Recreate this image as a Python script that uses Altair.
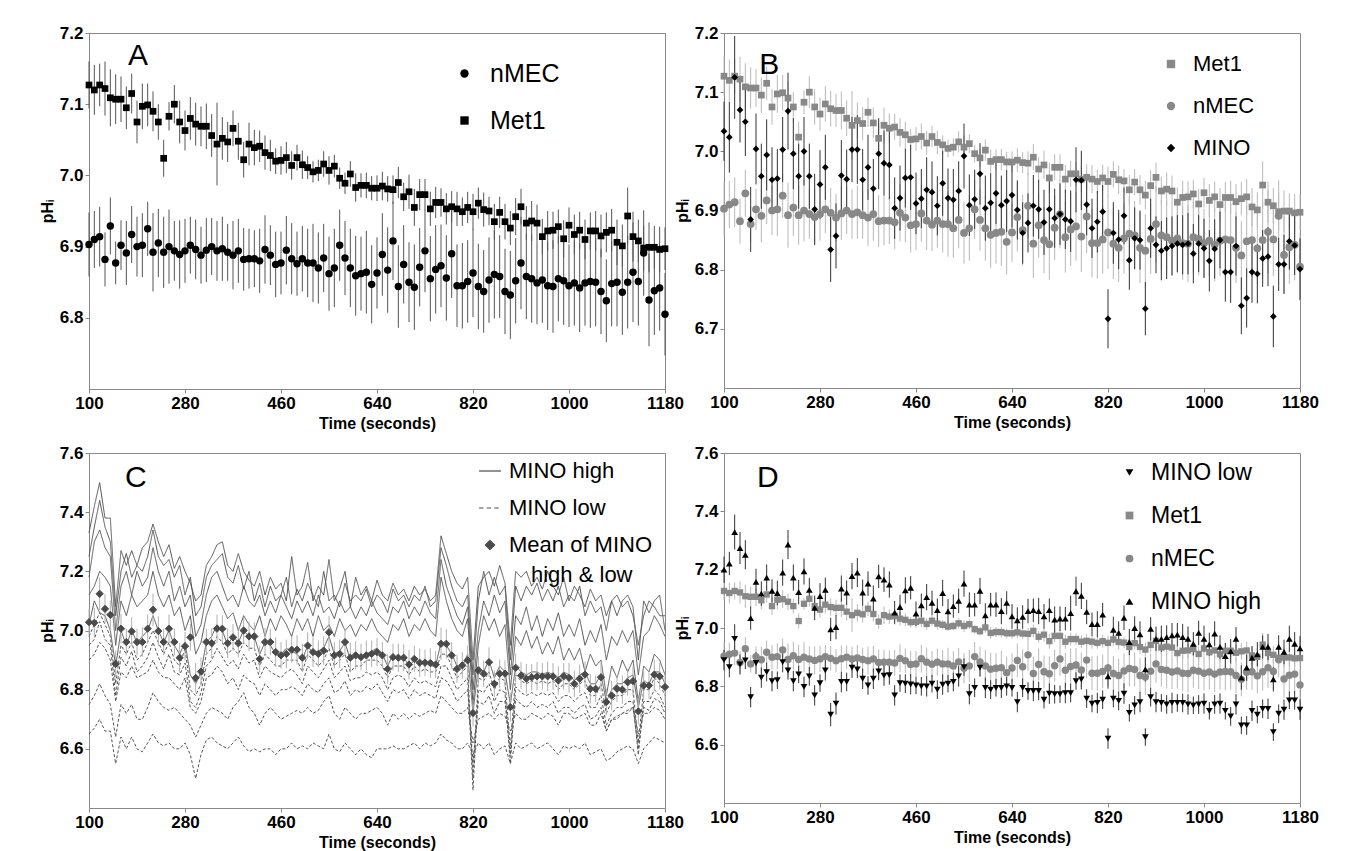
import altair as alt
import pandas as pd

FONT = "Liberation Sans"
N = 109
times = [100 + 10 * i for i in range(N)]
x_ticks = [100, 280, 460, 640, 820, 1000, 1180]

# ---------------- series values ----------------
met1 = [
    7.127, 7.120, 7.127, 7.122, 7.109, 7.107, 7.107, 7.095, 7.115, 7.075,
    7.097, 7.099, 7.090, 7.075, 7.024, 7.083, 7.100, 7.075, 7.063, 7.080,
    7.072, 7.069, 7.069, 7.056, 7.044, 7.052, 7.047, 7.066, 7.048, 7.022,
    7.044, 7.039, 7.041, 7.032, 7.028, 7.020, 7.021, 7.025, 7.014, 7.025,
    7.015, 7.011, 7.005, 7.007, 7.016, 7.007, 7.013, 6.996, 6.989, 7.002,
    6.983, 6.986, 6.986, 6.982, 6.982, 6.985, 6.981, 6.980, 6.990, 6.970,
    6.977, 6.955, 6.973, 6.973, 6.953, 6.962, 6.962, 6.953, 6.956, 6.953,
    6.949, 6.955, 6.949, 6.961, 6.952, 6.950, 6.935, 6.948, 6.935, 6.926,
    6.942, 6.956, 6.933, 6.936, 6.933, 6.914, 6.922, 6.923, 6.928, 6.911,
    6.930, 6.917, 6.923, 6.910, 6.922, 6.922, 6.915, 6.920, 6.923, 6.906,
    6.901, 6.943, 6.914, 6.908, 6.898, 6.899, 6.899, 6.896, 6.897]
met1_err = [
    0.033, 0.035, 0.030, 0.038, 0.040, 0.035, 0.032, 0.030, 0.028, 0.030,
    0.032, 0.030, 0.028, 0.025, 0.026, 0.020, 0.027, 0.030, 0.028, 0.030,
    0.030, 0.028, 0.032, 0.030, 0.058, 0.030, 0.028, 0.025, 0.026, 0.025,
    0.030, 0.025, 0.022, 0.024, 0.022, 0.018, 0.020, 0.022, 0.020, 0.018,
    0.020, 0.016, 0.015, 0.015, 0.018, 0.020, 0.016, 0.015, 0.015, 0.018,
    0.020, 0.017, 0.018, 0.017, 0.018, 0.020, 0.018, 0.020, 0.022, 0.020,
    0.024, 0.026, 0.022, 0.022, 0.024, 0.022, 0.020, 0.022, 0.022, 0.024,
    0.020, 0.022, 0.025, 0.022, 0.024, 0.020, 0.025, 0.022, 0.025, 0.024,
    0.026, 0.025, 0.024, 0.028, 0.026, 0.025, 0.028, 0.026, 0.024, 0.026,
    0.025, 0.028, 0.026, 0.028, 0.026, 0.028, 0.030, 0.028, 0.030, 0.032,
    0.030, 0.040, 0.035, 0.030, 0.032, 0.035, 0.030, 0.032, 0.030]
nmec = [
    6.903, 6.910, 6.914, 6.882, 6.929, 6.877, 6.902, 6.891, 6.917, 6.900,
    6.902, 6.925, 6.892, 6.905, 6.892, 6.900, 6.894, 6.889, 6.894, 6.902,
    6.896, 6.888, 6.895, 6.900, 6.894, 6.897, 6.892, 6.888, 6.894, 6.882,
    6.883, 6.883, 6.880, 6.896, 6.888, 6.875, 6.877, 6.895, 6.883, 6.876,
    6.883, 6.877, 6.877, 6.870, 6.884, 6.862, 6.870, 6.902, 6.884, 6.870,
    6.859, 6.862, 6.864, 6.847, 6.863, 6.889, 6.867, 6.908, 6.844, 6.875,
    6.850, 6.843, 6.871, 6.894, 6.855, 6.868, 6.873, 6.856, 6.890, 6.845,
    6.845, 6.851, 6.863, 6.844, 6.837, 6.853, 6.861, 6.858, 6.837, 6.832,
    6.852, 6.877, 6.858, 6.855, 6.849, 6.853, 6.845, 6.844, 6.855, 6.852,
    6.845, 6.849, 6.842, 6.849, 6.851, 6.850, 6.837, 6.824, 6.848, 6.850,
    6.836, 6.850, 6.864, 6.851, 6.891, 6.825, 6.838, 6.842, 6.805]
nmec_err = [
    0.045, 0.040, 0.042, 0.038, 0.040, 0.030, 0.035, 0.045, 0.040, 0.042,
    0.045, 0.038, 0.055, 0.048, 0.050, 0.052, 0.042, 0.048, 0.045, 0.040,
    0.042, 0.040, 0.045, 0.040, 0.042, 0.045, 0.040, 0.048, 0.045, 0.044,
    0.042, 0.040, 0.045, 0.048, 0.042, 0.046, 0.044, 0.048, 0.050, 0.045,
    0.046, 0.048, 0.055, 0.050, 0.048, 0.052, 0.055, 0.050, 0.052, 0.055,
    0.056, 0.052, 0.058, 0.055, 0.050, 0.058, 0.060, 0.055, 0.058, 0.055,
    0.056, 0.060, 0.055, 0.058, 0.060, 0.062, 0.058, 0.060, 0.062, 0.058,
    0.060, 0.058, 0.062, 0.060, 0.058, 0.060, 0.062, 0.058, 0.060, 0.062,
    0.060, 0.065, 0.060, 0.062, 0.058, 0.060, 0.062, 0.065, 0.060, 0.062,
    0.058, 0.060, 0.062, 0.060, 0.065, 0.062, 0.060, 0.058, 0.060, 0.062,
    0.060, 0.065, 0.070, 0.062, 0.060, 0.065, 0.062, 0.060, 0.058]
mino = [
    7.034, 7.024, 7.125, 7.070, 7.050, 6.885, 7.004, 6.958, 6.994, 6.952,
    6.954, 7.003, 7.068, 6.996, 6.958, 7.000, 6.958, 6.902, 6.944, 6.973,
    6.834, 6.857, 6.959, 6.953, 7.003, 7.003, 6.952, 6.973, 6.937, 6.996,
    6.980, 6.977, 6.904, 6.921, 6.955, 6.956, 6.912, 6.920, 6.935, 6.931,
    6.908, 6.946, 6.921, 6.918, 6.933, 6.992, 6.909, 6.919, 6.962, 6.904,
    6.913, 6.929, 6.909, 6.916, 6.926, 6.901, 6.862, 6.879, 6.908, 6.902,
    6.880, 6.902, 6.887, 6.894, 6.885, 6.882, 6.952, 6.951, 6.910, 6.870,
    6.881, 6.898, 6.717, 6.862, 6.851, 6.891, 6.816, 6.853, 6.850, 6.734,
    6.870, 6.842, 6.832, 6.836, 6.840, 6.844, 6.842, 6.844, 6.827, 6.844,
    6.836, 6.815, 6.835, 6.850, 6.796, 6.796, 6.840, 6.739, 6.752, 6.796,
    6.793, 6.819, 6.822, 6.721, 6.809, 6.809, 6.848, 6.841, 6.801]
mino_err = [
    0.050, 0.060, 0.070, 0.055, 0.058, 0.055, 0.060, 0.055, 0.060, 0.055,
    0.050, 0.055, 0.065, 0.060, 0.055, 0.058, 0.055, 0.060, 0.058, 0.055,
    0.055, 0.055, 0.060, 0.050, 0.055, 0.058, 0.052, 0.055, 0.050, 0.060,
    0.055, 0.058, 0.052, 0.055, 0.050, 0.055, 0.052, 0.050, 0.055, 0.052,
    0.050, 0.055, 0.050, 0.052, 0.050, 0.055, 0.052, 0.050, 0.052, 0.055,
    0.050, 0.052, 0.050, 0.052, 0.055, 0.050, 0.052, 0.050, 0.052, 0.050,
    0.055, 0.052, 0.050, 0.052, 0.050, 0.052, 0.055, 0.050, 0.052, 0.050,
    0.052, 0.045, 0.050, 0.052, 0.050, 0.048, 0.050, 0.052, 0.050, 0.045,
    0.050, 0.048, 0.050, 0.052, 0.050, 0.048, 0.050, 0.052, 0.050, 0.048,
    0.050, 0.052, 0.050, 0.048, 0.050, 0.052, 0.050, 0.048, 0.050, 0.052,
    0.050, 0.048, 0.050, 0.052, 0.045, 0.050, 0.048, 0.050, 0.052]
mino_high = [
    7.200, 7.221, 7.329, 7.274, 7.251, 7.034, 7.158, 7.118, 7.173, 7.127,
    7.120, 7.190, 7.286, 7.173, 7.123, 7.194, 7.131, 7.069, 7.109, 7.131,
    6.995, 7.003, 7.135, 7.121, 7.178, 7.190, 7.121, 7.152, 7.101, 7.177,
    7.166, 7.149, 7.053, 7.072, 7.129, 7.138, 7.049, 7.078, 7.106, 7.086,
    7.061, 7.120, 7.057, 7.075, 7.093, 7.152, 7.080, 7.080, 7.127, 7.043,
    7.080, 7.080, 7.058, 7.086, 7.040, 7.026, 7.038, 7.058, 7.061, 7.058,
    7.040, 7.061, 7.029, 7.032, 7.032, 7.051, 7.126, 7.110, 7.055, 7.013,
    7.013, 7.046, 6.834, 6.994, 6.983, 7.035, 6.952, 7.000, 6.978, 6.858,
    6.997, 6.963, 6.963, 6.969, 6.975, 6.977, 6.969, 6.963, 6.946, 6.983,
    6.963, 6.944, 6.981, 6.935, 6.904, 6.920, 6.963, 6.830, 6.864, 6.898,
    6.910, 6.935, 6.935, 6.824, 6.935, 6.918, 6.963, 6.946, 6.930]
mino_high_err = [
    0.045, 0.040, 0.060, 0.055, 0.050, 0.040, 0.045, 0.042, 0.045, 0.040,
    0.042, 0.045, 0.050, 0.045, 0.042, 0.045, 0.040, 0.042, 0.045, 0.042,
    0.040, 0.042, 0.045, 0.042, 0.045, 0.050, 0.045, 0.042, 0.045, 0.040,
    0.042, 0.045, 0.040, 0.042, 0.045, 0.040, 0.042, 0.040, 0.045, 0.042,
    0.040, 0.045, 0.042, 0.040, 0.042, 0.045, 0.042, 0.040, 0.045, 0.042,
    0.040, 0.042, 0.045, 0.040, 0.042, 0.045, 0.040, 0.042, 0.040, 0.045,
    0.042, 0.040, 0.045, 0.042, 0.040, 0.060, 0.050, 0.045, 0.042, 0.040,
    0.045, 0.040, 0.042, 0.045, 0.040, 0.042, 0.045, 0.040, 0.045, 0.042,
    0.040, 0.042, 0.045, 0.040, 0.042, 0.040, 0.045, 0.042, 0.040, 0.042,
    0.045, 0.040, 0.042, 0.040, 0.045, 0.042, 0.040, 0.042, 0.045, 0.040,
    0.042, 0.040, 0.045, 0.042, 0.040, 0.042, 0.045, 0.040, 0.042]
mino_low = [
    6.890, 6.866, 6.963, 6.875, 6.889, 6.763, 6.880, 6.830, 6.849, 6.818,
    6.821, 6.883, 6.855, 6.818, 6.841, 6.798, 6.834, 6.769, 6.811, 6.855,
    6.703, 6.741, 6.815, 6.815, 6.864, 6.858, 6.826, 6.803, 6.826, 6.851,
    6.837, 6.838, 6.769, 6.811, 6.809, 6.807, 6.803, 6.800, 6.800, 6.809,
    6.789, 6.806, 6.809, 6.815, 6.834, 6.866, 6.773, 6.795, 6.864, 6.795,
    6.789, 6.795, 6.795, 6.800, 6.795, 6.746, 6.795, 6.784, 6.784, 6.784,
    6.754, 6.775, 6.773, 6.773, 6.777, 6.777, 6.818, 6.824, 6.758, 6.741,
    6.743, 6.754, 6.621, 6.758, 6.750, 6.775, 6.709, 6.735, 6.746, 6.626,
    6.763, 6.746, 6.743, 6.738, 6.743, 6.743, 6.743, 6.738, 6.735, 6.738,
    6.741, 6.716, 6.738, 6.741, 6.716, 6.697, 6.738, 6.666, 6.666, 6.716,
    6.703, 6.723, 6.723, 6.643, 6.706, 6.720, 6.752, 6.752, 6.720]
mino_low_err = [
    0.035, 0.035, 0.050, 0.035, 0.030, 0.035, 0.038, 0.035, 0.032, 0.035,
    0.030, 0.035, 0.032, 0.035, 0.030, 0.035, 0.032, 0.035, 0.030, 0.035,
    0.040, 0.038, 0.035, 0.032, 0.035, 0.030, 0.035, 0.032, 0.035, 0.030,
    0.035, 0.032, 0.035, 0.030, 0.032, 0.035, 0.030, 0.032, 0.035, 0.030,
    0.032, 0.035, 0.030, 0.032, 0.035, 0.030, 0.035, 0.032, 0.030, 0.035,
    0.032, 0.030, 0.035, 0.032, 0.030, 0.035, 0.032, 0.030, 0.035, 0.032,
    0.030, 0.035, 0.032, 0.030, 0.035, 0.032, 0.030, 0.035, 0.032, 0.030,
    0.035, 0.032, 0.035, 0.030, 0.032, 0.035, 0.030, 0.032, 0.035, 0.030,
    0.032, 0.035, 0.030, 0.032, 0.035, 0.030, 0.032, 0.035, 0.030, 0.032,
    0.035, 0.030, 0.032, 0.035, 0.030, 0.032, 0.035, 0.030, 0.032, 0.035,
    0.030, 0.032, 0.035, 0.030, 0.032, 0.035, 0.030, 0.032, 0.035]

# Panel C: individual MINO high (solid) and MINO low (dashed) traces
high_1 = [7.33, 7.42, 7.50, 7.38, 7.38, 7.08, 7.27, 7.22, 7.27, 7.22, 7.28, 7.30,
          7.36, 7.30, 7.25, 7.29, 7.21, 7.25, 7.20, 7.16, 7.10,
          7.12, 7.22, 7.25, 7.29, 7.30, 7.22, 7.20, 7.26, 7.20, 7.17,
          7.15, 7.20, 7.12, 7.18, 7.14, 7.16, 7.10, 7.25, 7.12, 7.15,
          7.23, 7.10, 7.15, 7.12, 7.24, 7.10, 7.14, 7.20, 7.08, 7.18,
          7.12, 7.15, 7.10, 7.17, 7.12, 7.10, 7.16, 7.12, 7.14, 7.10,
          7.15, 7.12, 7.14, 7.10, 7.12, 7.32, 7.26, 7.20, 7.16, 7.14,
          7.18, 6.90, 7.15, 7.18, 7.20, 7.15, 7.22, 7.16, 6.95, 7.20,
          7.18, 7.20, 7.15, 7.18, 7.14, 7.20, 7.15, 7.12, 7.18, 7.10,
          7.15, 7.12, 7.08, 7.14, 7.10, 7.12, 7.05, 7.10, 7.12, 7.08,
          7.10, 7.05, 6.95, 7.05, 7.10, 7.08, 7.05, 7.05]
high_2 = [7.25, 7.35, 7.44, 7.35, 7.30, 7.05, 7.20, 7.26, 7.18, 7.22, 7.20, 7.25,
          7.34, 7.25, 7.22, 7.24, 7.18, 7.22, 7.12, 7.18, 7.05,
          7.08, 7.18, 7.22, 7.24, 7.26, 7.18, 7.16, 7.22, 7.14, 7.20,
          7.10, 7.16, 7.08, 7.15, 7.10, 7.12, 7.18, 7.08, 7.14, 7.10,
          7.16, 7.12, 7.08, 7.20, 7.10, 7.12, 7.08, 7.16, 7.10, 7.12,
          7.10, 7.14, 7.08, 7.12, 7.10, 7.06, 7.14, 7.10, 7.12, 7.08,
          7.12, 7.10, 7.15, 7.08, 7.10, 7.28, 7.22, 7.15, 7.10, 7.08,
          7.12, 6.85, 7.10, 7.20, 7.12, 7.18, 7.12, 7.15, 6.90, 7.15,
          7.10, 7.15, 7.12, 7.16, 7.10, 7.14, 7.10, 7.15, 7.08, 7.12,
          7.10, 7.15, 7.05, 7.10, 7.06, 7.08, 7.00, 7.10, 7.05, 7.10,
          7.12, 7.08, 6.90, 7.10, 7.06, 7.10, 7.12, 7.00]
high_3 = [7.18, 7.30, 7.34, 7.28, 7.25, 7.00, 7.15, 7.20, 7.12, 7.20, 7.15, 7.18,
          7.28, 7.20, 7.15, 7.20, 7.10, 7.15, 7.08, 7.12, 6.98,
          7.02, 7.12, 7.18, 7.20, 7.15, 7.10, 7.12, 7.08, 7.15, 7.10,
          7.08, 7.12, 7.05, 7.10, 7.06, 7.12, 7.08, 7.04, 7.10, 7.06,
          7.10, 7.05, 7.12, 7.06, 7.08, 7.04, 7.10, 7.06, 7.08, 7.04,
          7.08, 7.05, 7.10, 7.06, 7.04, 7.02, 7.08, 7.06, 7.10, 7.04,
          7.08, 7.05, 7.10, 7.06, 7.04, 7.24, 7.15, 7.10, 7.05, 7.02,
          7.08, 6.80, 7.00, 7.10, 7.05, 7.12, 7.06, 7.10, 6.85, 7.05,
          7.02, 7.08, 7.00, 7.05, 6.98, 7.04, 7.00, 7.06, 6.98, 7.02,
          6.98, 7.04, 6.95, 7.00, 6.96, 7.02, 6.90, 6.98, 6.95, 7.00,
          6.96, 7.00, 6.85, 6.98, 7.00, 7.05, 7.02, 6.98]
high_4 = [7.12, 7.15, 7.20, 7.18, 7.15, 6.95, 7.10, 7.05, 7.12, 7.08, 7.10, 7.12,
          7.20, 7.12, 7.08, 7.12, 7.05, 7.08, 7.00, 7.05, 6.92,
          6.96, 7.05, 7.10, 7.12, 7.08, 7.04, 7.06, 7.00, 7.05, 7.02,
          7.00, 7.05, 6.98, 7.04, 7.00, 7.05, 7.02, 6.98, 7.04, 7.00,
          7.04, 6.98, 7.05, 7.00, 7.02, 6.98, 7.04, 7.00, 7.02, 6.98,
          7.02, 7.00, 7.04, 7.00, 6.98, 6.96, 7.02, 7.00, 7.04, 6.98,
          7.02, 7.00, 7.04, 7.00, 6.98, 7.18, 7.10, 7.04, 7.00, 6.98,
          7.04, 6.75, 6.95, 7.05, 7.00, 7.04, 6.98, 7.02, 6.80, 6.98,
          6.95, 7.00, 6.94, 6.98, 6.92, 6.96, 6.92, 6.98, 6.90, 6.94,
          6.90, 6.94, 6.86, 6.92, 6.88, 6.90, 6.78, 6.88, 6.84, 6.90,
          6.86, 6.90, 6.76, 6.88, 6.86, 6.92, 6.90, 6.85]
high_5 = [7.02, 7.10, 7.06, 7.05, 7.00, 6.88, 7.00, 6.95, 7.00, 6.96, 6.98, 7.00,
          7.05, 7.00, 6.96, 7.00, 6.95, 6.92, 6.96, 6.85, 6.82,
          6.86, 6.96, 6.98, 7.02, 7.00, 6.95, 6.98, 6.96, 7.00, 6.98,
          6.98, 6.92, 6.96, 6.95, 6.92, 6.92, 6.94, 6.93, 6.92, 6.90,
          6.95, 6.92, 6.93, 6.94, 6.98, 6.92, 6.93, 6.96, 6.90, 6.92,
          6.90, 6.92, 6.93, 6.94, 6.92, 6.88, 6.92, 6.90, 6.91, 6.88,
          6.90, 6.89, 6.90, 6.88, 6.88, 6.96, 6.95, 6.92, 6.88, 6.88,
          6.92, 6.72, 6.88, 6.86, 6.90, 6.84, 6.88, 6.86, 6.75, 6.88,
          6.86, 6.85, 6.86, 6.86, 6.85, 6.86, 6.85, 6.84, 6.86, 6.85,
          6.83, 6.85, 6.86, 6.82, 6.82, 6.85, 6.76, 6.80, 6.82, 6.82,
          6.84, 6.85, 6.74, 6.83, 6.82, 6.86, 6.86, 6.82]
low_1 = [6.98, 7.02, 7.06, 7.02, 6.98, 6.82, 6.95, 6.92, 6.96, 6.90, 6.92, 6.96,
         7.00, 6.96, 6.92, 6.96, 6.90, 6.88, 6.94, 6.80, 6.78,
         6.82, 6.92, 6.94, 6.98, 6.96, 6.92, 6.94, 6.92, 6.96, 6.94,
         6.94, 6.88, 6.92, 6.90, 6.88, 6.88, 6.90, 6.90, 6.90, 6.86,
         6.92, 6.90, 6.88, 6.90, 6.94, 6.88, 6.90, 6.92, 6.86, 6.88,
         6.88, 6.90, 6.90, 6.90, 6.88, 6.84, 6.88, 6.88, 6.88, 6.85,
         6.88, 6.86, 6.87, 6.86, 6.86, 6.92, 6.92, 6.88, 6.84, 6.86,
         6.88, 6.50, 6.84, 6.83, 6.86, 6.80, 6.84, 6.83, 6.60, 6.85,
         6.83, 6.82, 6.83, 6.82, 6.83, 6.82, 6.83, 6.80, 6.82, 6.82,
         6.80, 6.82, 6.83, 6.78, 6.78, 6.82, 6.72, 6.76, 6.78, 6.78,
         6.80, 6.80, 6.62, 6.80, 6.80, 6.84, 6.82, 6.78]
low_2 = [6.95, 6.97, 7.03, 6.97, 6.95, 6.78, 6.91, 6.88, 6.93, 6.86, 6.88, 6.91,
         6.96, 6.91, 6.87, 6.92, 6.86, 6.85, 6.89, 6.76, 6.74,
         6.79, 6.88, 6.90, 6.94, 6.91, 6.88, 6.90, 6.87, 6.92, 6.89,
         6.90, 6.84, 6.88, 6.86, 6.85, 6.84, 6.86, 6.87, 6.85, 6.82,
         6.88, 6.86, 6.84, 6.87, 6.90, 6.84, 6.86, 6.88, 6.83, 6.84,
         6.84, 6.86, 6.85, 6.86, 6.84, 6.80, 6.84, 6.85, 6.84, 6.81,
         6.84, 6.82, 6.83, 6.82, 6.81, 6.88, 6.88, 6.84, 6.80, 6.82,
         6.84, 6.46, 6.80, 6.79, 6.82, 6.76, 6.80, 6.79, 6.55, 6.81,
         6.79, 6.78, 6.79, 6.78, 6.79, 6.78, 6.79, 6.76, 6.78, 6.78,
         6.76, 6.78, 6.79, 6.74, 6.74, 6.78, 6.68, 6.72, 6.74, 6.74,
         6.76, 6.76, 6.58, 6.76, 6.76, 6.80, 6.78, 6.74]
low_3 = [6.90, 6.92, 6.96, 6.94, 6.90, 6.76, 6.86, 6.84, 6.88, 6.84, 6.85, 6.86,
         6.90, 6.86, 6.84, 6.84, 6.82, 6.80, 6.84, 6.74, 6.72,
         6.76, 6.84, 6.85, 6.88, 6.86, 6.82, 6.84, 6.80, 6.85, 6.83,
         6.82, 6.78, 6.82, 6.80, 6.78, 6.80, 6.80, 6.81, 6.80, 6.78,
         6.82, 6.80, 6.79, 6.82, 6.84, 6.79, 6.80, 6.83, 6.78, 6.80,
         6.79, 6.81, 6.80, 6.82, 6.79, 6.76, 6.80, 6.79, 6.80, 6.77,
         6.80, 6.78, 6.79, 6.78, 6.77, 6.84, 6.83, 6.80, 6.76, 6.78,
         6.80, 6.55, 6.76, 6.75, 6.78, 6.72, 6.76, 6.76, 6.58, 6.77,
         6.75, 6.74, 6.76, 6.74, 6.75, 6.74, 6.76, 6.72, 6.74, 6.74,
         6.72, 6.74, 6.75, 6.70, 6.71, 6.74, 6.66, 6.70, 6.71, 6.72,
         6.73, 6.74, 6.60, 6.74, 6.73, 6.77, 6.76, 6.72]
low_4 = [6.75, 6.78, 6.82, 6.78, 6.75, 6.64, 6.75, 6.72, 6.75, 6.70, 6.70, 6.74,
         6.79, 6.76, 6.74, 6.73, 6.74, 6.72, 6.70, 6.68, 6.64,
         6.68, 6.72, 6.74, 6.73, 6.72, 6.70, 6.74, 6.76, 6.79, 6.74,
         6.72, 6.68, 6.72, 6.74, 6.72, 6.70, 6.71, 6.72, 6.73, 6.72,
         6.74, 6.72, 6.73, 6.76, 6.78, 6.72, 6.70, 6.74, 6.72, 6.70,
         6.72, 6.72, 6.73, 6.74, 6.72, 6.68, 6.72, 6.70, 6.72, 6.70,
         6.72, 6.71, 6.72, 6.73, 6.72, 6.78, 6.76, 6.74, 6.72, 6.72,
         6.74, 6.62, 6.70, 6.71, 6.72, 6.70, 6.72, 6.71, 6.66, 6.72,
         6.70, 6.70, 6.72, 6.71, 6.70, 6.72, 6.71, 6.68, 6.72, 6.72,
         6.70, 6.71, 6.72, 6.68, 6.68, 6.72, 6.66, 6.70, 6.70, 6.72,
         6.72, 6.74, 6.65, 6.72, 6.72, 6.74, 6.73, 6.70]
low_5 = [6.65, 6.67, 6.70, 6.66, 6.66, 6.55, 6.64, 6.60, 6.64, 6.60, 6.59, 6.62,
         6.65, 6.62, 6.61, 6.62, 6.60, 6.60, 6.62, 6.58, 6.50,
         6.58, 6.63, 6.64, 6.62, 6.61, 6.60, 6.62, 6.64, 6.61, 6.59,
         6.60, 6.59, 6.60, 6.60, 6.58, 6.60, 6.60, 6.62, 6.60, 6.61,
         6.60, 6.62, 6.61, 6.60, 6.65, 6.60, 6.59, 6.62, 6.60, 6.58,
         6.60, 6.58, 6.57, 6.60, 6.60, 6.60, 6.61, 6.60, 6.60, 6.61,
         6.62, 6.60, 6.62, 6.61, 6.62, 6.65, 6.63, 6.62, 6.60, 6.60,
         6.62, 6.58, 6.62, 6.60, 6.62, 6.58, 6.60, 6.61, 6.55, 6.62,
         6.60, 6.61, 6.62, 6.60, 6.61, 6.62, 6.60, 6.58, 6.61, 6.60,
         6.61, 6.60, 6.62, 6.58, 6.59, 6.60, 6.56, 6.57, 6.59, 6.60,
         6.61, 6.60, 6.55, 6.60, 6.62, 6.64, 6.63, 6.62]
mino_mean = [
    7.028, 7.026, 7.124, 7.073, 7.053, 6.887, 7.006, 6.961, 6.997, 6.961,
    6.961, 7.006, 7.070, 6.998, 6.961, 7.006, 6.961, 6.908, 6.947, 6.977,
    6.840, 6.861, 6.961, 6.957, 7.006, 7.006, 6.957, 6.977, 6.957, 7.000,
    6.980, 6.980, 6.904, 6.961, 6.961, 6.927, 6.916, 6.921, 6.935, 6.935,
    6.908, 6.949, 6.927, 6.921, 6.932, 6.994, 6.916, 6.921, 6.961, 6.908,
    6.916, 6.910, 6.916, 6.921, 6.927, 6.916, 6.870, 6.910, 6.908, 6.908,
    6.885, 6.904, 6.891, 6.891, 6.890, 6.885, 6.955, 6.955, 6.916, 6.870,
    6.882, 6.899, 6.721, 6.865, 6.854, 6.893, 6.820, 6.854, 6.854, 6.741,
    6.874, 6.848, 6.837, 6.842, 6.845, 6.845, 6.845, 6.845, 6.831, 6.845,
    6.840, 6.820, 6.837, 6.851, 6.803, 6.803, 6.842, 6.758, 6.780, 6.803,
    6.800, 6.825, 6.829, 6.727, 6.814, 6.814, 6.851, 6.845, 6.809]
mino_mean_err = [
    0.045, 0.050, 0.055, 0.050, 0.048, 0.045, 0.050, 0.045, 0.048, 0.045,
    0.050, 0.048, 0.055, 0.050, 0.045, 0.048, 0.045, 0.050, 0.048, 0.045,
    0.050, 0.048, 0.045, 0.050, 0.048, 0.045, 0.050, 0.045, 0.048, 0.045,
    0.050, 0.048, 0.045, 0.048, 0.045, 0.050, 0.045, 0.048, 0.045, 0.050,
    0.048, 0.045, 0.050, 0.045, 0.048, 0.055, 0.045, 0.048, 0.045, 0.050,
    0.048, 0.045, 0.050, 0.045, 0.048, 0.045, 0.050, 0.045, 0.048, 0.045,
    0.050, 0.045, 0.048, 0.045, 0.050, 0.045, 0.055, 0.050, 0.045, 0.048,
    0.045, 0.050, 0.045, 0.048, 0.045, 0.050, 0.045, 0.048, 0.045, 0.050,
    0.048, 0.045, 0.050, 0.045, 0.048, 0.045, 0.050, 0.045, 0.048, 0.045,
    0.050, 0.045, 0.048, 0.045, 0.050, 0.045, 0.048, 0.045, 0.050, 0.045,
    0.048, 0.045, 0.050, 0.045, 0.048, 0.045, 0.050, 0.045, 0.048]

high_traces = [high_1, high_2, high_3, high_4, high_5]
low_traces = [low_1, low_2, low_3, low_4, low_5]
for arr in [met1, met1_err, nmec, nmec_err, mino, mino_err, mino_high, mino_high_err,
            mino_low, mino_low_err, mino_mean, mino_mean_err] + high_traces + low_traces:
    assert len(arr) == N, len(arr)

panel_letters = ["A", "B", "C", "D"]
letter_t = [192, 185, 188, 182]
letter_v = [7.168, 7.146, 7.515, 7.515]

H, L, M = "MINO high", "MINO low", "Mean of MINO high & low"


def series_df(name, vals, errs):
    return pd.DataFrame({"t": times, "v": vals,
                         "lo": [v - e for v, e in zip(vals, errs)],
                         "hi": [v + e for v, e in zip(vals, errs)],
                         "series": [name] * N})


def x_enc():
    return alt.X("t:Q", scale=alt.Scale(domain=[100, 1180], nice=False, zero=False),
                 axis=alt.Axis(values=x_ticks, title="Time (seconds)", format="d",
                               labelFlush=False))


def y_scale(dom):
    return alt.Scale(domain=dom, nice=False, zero=False)


def y_axis(vals):
    return alt.Axis(values=vals, format=".1f", title="pHᵢ")


def letter_layer(k, ysc):
    d = pd.DataFrame({"t": [letter_t[k]], "v": [letter_v[k]], "lab": [panel_letters[k]]})
    return alt.Chart(d).mark_text(fontSize=30, font=FONT, color="black").encode(
        x=alt.X("t:Q"), y=alt.Y("v:Q", scale=ysc), text="lab:N")


def point_panel(k, specs, draw_order, ydom, yvals, leg_x, leg_y0, leg_dy, leg_font,
                leg_size, leg_off, w, h):
    """specs: name -> (values, errors, colour, error colour, shape, marker size, legend row)"""
    ysc = y_scale(ydom)
    err_layers, pt_layers = [], []
    for name in draw_order:
        vals, errs, col, ecol, shp, msize, row = specs[name]
        d = series_df(name, vals, errs)
        err_layers.append(alt.Chart(d).mark_rule(strokeWidth=1, color=ecol).encode(
            x=x_enc(), y=alt.Y("lo:Q", scale=ysc, axis=y_axis(yvals)), y2="hi:Q"))
        leg = alt.Legend(title=None, orient="none", legendX=leg_x,
                         legendY=leg_y0 + row * leg_dy, labelFontSize=leg_font,
                         labelFont=FONT, labelColor="black", symbolSize=leg_size,
                         labelOffset=leg_off)
        pt_layers.append(alt.Chart(d).mark_point(filled=True, opacity=1, size=msize,
                                                 color=col).encode(
            x=x_enc(), y=alt.Y("v:Q", scale=ysc),
            shape=alt.Shape("series:N", scale=alt.Scale(domain=[name], range=[shp]),
                            legend=leg)))
    return alt.layer(*err_layers, *pt_layers, letter_layer(k, ysc)).resolve_scale(
        shape="independent").properties(width=w, height=h)


# ---- Panel A
A = point_panel(0, {"nMEC": (nmec, nmec_err, "black", "#555", "circle", 55, 0),
                    "Met1": (met1, met1_err, "black", "#555", "square", 45, 1)},
                ["nMEC", "Met1"], [6.7, 7.2], [6.8, 6.9, 7.0, 7.1, 7.2],
                363, 28, 47, 25, 70, 13, 576, 356)

# ---- Panel B
B = point_panel(1, {"Met1": (met1, met1_err, "#888", "#b8b8b8", "square", 45, 0),
                    "nMEC": (nmec, nmec_err, "#888", "#b8b8b8", "circle", 60, 1),
                    "MINO": (mino, mino_err, "black", "#333", "diamond", 45, 2)},
                ["Met1", "nMEC", "MINO"], [6.6, 7.2], [6.7, 6.8, 6.9, 7.0, 7.1, 7.2],
                436, 20, 42, 22, 70, 11, 576, 355)

# ---- Panel D
D = point_panel(3, {"MINO low": (mino_low, mino_low_err, "black", "#333", "triangle-down", 45, 0),
                    "Met1": (met1, met1_err, "#888", "#b8b8b8", "square", 40, 1),
                    "nMEC": (nmec, nmec_err, "#888", "#b8b8b8", "circle", 55, 2),
                    "MINO high": (mino_high, mino_high_err, "black", "#333", "triangle-up", 45, 3)},
                ["Met1", "nMEC", "MINO low", "MINO high"], [6.4, 7.6],
                [6.6, 6.8, 7.0, 7.2, 7.4, 7.6],
                394, 8, 43, 23, 60, 10, 576, 350)

# ---- Panel C
rows = []
for j, tr in enumerate(high_traces):
    for t, v in zip(times, tr):
        rows.append({"t": t, "v": v, "line": f"h{j}", "grp": H})
for j, tr in enumerate(low_traces):
    for t, v in zip(times, tr):
        rows.append({"t": t, "v": v, "line": f"l{j}", "grp": L})
dfC_lines = pd.DataFrame(rows)
dfC_mean = pd.DataFrame({"t": times, "v": mino_mean,
                         "lo": [v - e for v, e in zip(mino_mean, mino_mean_err)],
                         "hi": [v + e for v, e in zip(mino_mean, mino_mean_err)],
                         "grp": [M] * N})
yscC = y_scale([6.4, 7.6])
yvC = [6.6, 6.8, 7.0, 7.2, 7.4, 7.6]
c_lines = alt.Chart(dfC_lines).mark_line(strokeWidth=1, color="#555").encode(
    x=x_enc(), y=alt.Y("v:Q", scale=yscC, axis=y_axis(yvC)), detail="line:N",
    strokeDash=alt.StrokeDash("grp:N", scale=alt.Scale(domain=[H, L], range=[[1, 0], [3, 2]]),
                              legend=None))
c_err = alt.Chart(dfC_mean).mark_rule(strokeWidth=1, color="#b0b0b0").encode(
    x=x_enc(), y=alt.Y("lo:Q", scale=yscC), y2="hi:Q")
legC = alt.Legend(title=None, orient="none", legendX=389, legendY=6, labelFontSize=22,
                  labelFont=FONT, labelColor="black", rowPadding=14, labelOffset=7,
                  symbolSize=480, symbolStrokeWidth=1.2,
                  labelExpr="datum.label == '" + M + "' ? ['Mean of MINO', '\u200b\u2003high & low'] : datum.label")
paths = ["M-1,0L1,0", "M-1,0L-0.6,0M-0.3,0L0.1,0M0.4,0L0.8,0",
         "M0,-0.42L0.42,0L0,0.42L-0.42,0Z"]
c_pts = alt.Chart(dfC_mean).mark_point(filled=True, color="#4a4a4a", stroke="#4a4a4a",
                                       strokeWidth=1, opacity=1, size=300).encode(
    x=x_enc(), y=alt.Y("v:Q", scale=yscC),
    shape=alt.Shape("grp:N", scale=alt.Scale(domain=[H, L, M], range=paths), legend=legC))
C = alt.layer(c_lines, c_err, c_pts, letter_layer(2, yscC)).properties(width=576, height=355)

chart = alt.concat(A, B, C, D, columns=2, spacing={"row": 64, "column": 59}, bounds="flush").resolve_scale(
    shape="independent", strokeDash="independent"
).resolve_legend(
    shape="independent", strokeDash="independent"
).properties(
    padding={"left": 30, "top": 15, "right": 10, "bottom": 5}
).configure(style={"guide-label": {"lineHeight": 30}}).configure_view(
    stroke="#888", strokeWidth=1
).configure_axis(
    labelFont=FONT, labelFontSize=17, labelFontWeight="bold", labelColor="black",
    titleFont=FONT, titleFontSize=16, titleFontWeight="bold", titleColor="black",
    domain=False, grid=False, tickColor="#888", tickSize=4, labelPadding=2, titlePadding=4
).configure_legend(labelLimit=400)

chart.save("out.html", embed_options={"renderer": "svg", "actions": False})
